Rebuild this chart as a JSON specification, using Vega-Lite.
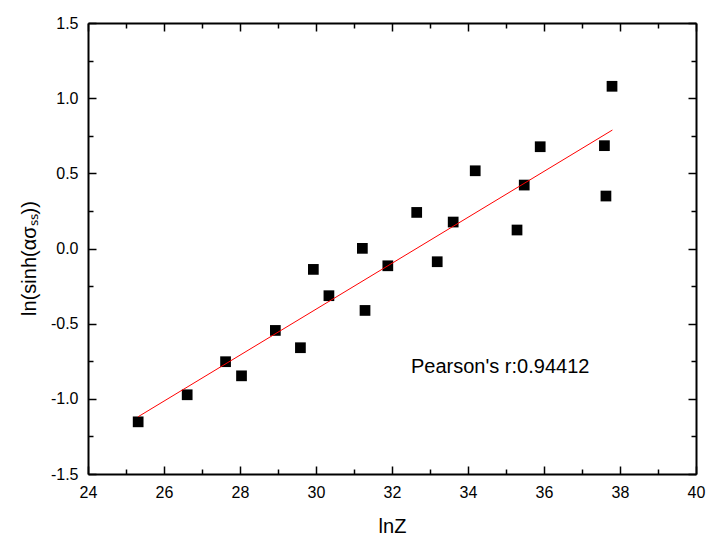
{
  "$schema": "https://vega.github.io/schema/vega-lite/v6.json",
  "width": 608,
  "height": 451,
  "autosize": "none",
  "padding": {"left": 88, "top": 23, "right": 11, "bottom": 62},
  "background": "white",
  "config": {
    "view": {"stroke": null},
    "font": "Liberation Sans",
    "axis": {"grid": false, "domainColor": "black", "domainWidth": 2, "tickColor": "black", "tickWidth": 1.5, "labelColor": "black", "titleColor": "black", "labelFont": "Liberation Sans", "titleFont": "Liberation Sans", "titleFontWeight": "normal"}
  },
  "datasets": {
    "pts": [
      {"lnZ": 25.32, "v": -1.153},
      {"lnZ": 26.61, "v": -0.973},
      {"lnZ": 27.62, "v": -0.753},
      {"lnZ": 28.04, "v": -0.847},
      {"lnZ": 28.93, "v": -0.545},
      {"lnZ": 29.59, "v": -0.660},
      {"lnZ": 29.93, "v": -0.139},
      {"lnZ": 30.34, "v": -0.314},
      {"lnZ": 31.22, "v": 0.001},
      {"lnZ": 31.29, "v": -0.412},
      {"lnZ": 31.89, "v": -0.115},
      {"lnZ": 32.65, "v": 0.240},
      {"lnZ": 33.19, "v": -0.088},
      {"lnZ": 33.61, "v": 0.176},
      {"lnZ": 34.19, "v": 0.517},
      {"lnZ": 35.29, "v": 0.123},
      {"lnZ": 35.48, "v": 0.422},
      {"lnZ": 35.90, "v": 0.677},
      {"lnZ": 37.59, "v": 0.684},
      {"lnZ": 37.63, "v": 0.349},
      {"lnZ": 37.79, "v": 1.079}
    ],
    "fit": [
      {"lnZ": 25.32, "v": -1.119},
      {"lnZ": 37.80, "v": 0.788}
    ],
    "note": [
      {"lnZ": 32.5, "v": -0.785, "t": "Pearson's r:0.94412"}
    ]
  },
  "layer": [
    {
      "data": {"name": "pts"},
      "mark": {"type": "point", "shape": "square", "filled": true, "color": "black", "opacity": 1, "size": 115},
      "encoding": {
        "x": {"field": "lnZ", "type": "quantitative", "scale": {"domain": [24, 40], "nice": false, "zero": false},
          "axis": {"orient": "bottom", "title": "lnZ", "titleFontSize": 20, "titlePadding": 13, "labelFontSize": 16, "labelPadding": 18,
            "values": [24,25,26,27,28,29,30,31,32,33,34,35,36,37,38,39,40],
            "tickSize": {"condition": {"test": "datum.value % 2 === 0", "value": -8}, "value": -5},
            "labelExpr": "datum.value % 2 === 0 ? format(datum.value, 'd') : ''", "labelFlush": false, "labelOverlap": false}},
        "y": {"field": "v", "type": "quantitative", "scale": {"domain": [-1.5, 1.5], "nice": false, "zero": false},
          "axis": {"orient": "left", "title": "ln(sinh(ασₛₛ))", "titleFontSize": 20, "titlePadding": 11, "titleY": 235, "labelFontSize": 16, "labelPadding": 18,
            "values": [-1.5,-1.25,-1.0,-0.75,-0.5,-0.25,0,0.25,0.5,0.75,1.0,1.25,1.5],
            "tickSize": {"condition": {"test": "abs(datum.value*2 - round(datum.value*2)) < 0.001", "value": -8}, "value": -5},
            "labelExpr": "abs(datum.value*2 - round(datum.value*2)) < 0.001 ? replace(format(datum.value, '.1f'), '−', '-') : ''", "labelFlush": false, "labelOverlap": false}}
      }
    },
    {
      "data": {"name": "fit"},
      "mark": {"type": "line", "color": "#ff0000", "strokeWidth": 1},
      "encoding": {
        "x": {"field": "lnZ", "type": "quantitative",
          "axis": {"orient": "top", "title": null, "labels": false,
            "values": [24,25,26,27,28,29,30,31,32,33,34,35,36,37,38,39,40],
            "tickSize": {"condition": {"test": "datum.value % 2 === 0", "value": -8}, "value": -5}}},
        "y": {"field": "v", "type": "quantitative",
          "axis": {"orient": "right", "title": null, "labels": false,
            "values": [-1.5,-1.25,-1.0,-0.75,-0.5,-0.25,0,0.25,0.5,0.75,1.0,1.25,1.5],
            "tickSize": {"condition": {"test": "abs(datum.value*2 - round(datum.value*2)) < 0.001", "value": -8}, "value": -5}}}
      }
    },
    {
      "data": {"name": "note"},
      "mark": {"type": "text", "align": "left", "baseline": "middle", "fontSize": 20, "color": "black", "font": "Liberation Sans"},
      "encoding": {
        "x": {"field": "lnZ", "type": "quantitative", "axis": null},
        "y": {"field": "v", "type": "quantitative", "axis": null},
        "text": {"field": "t"}
      }
    }
  ],
  "resolve": {"axis": {"x": "independent", "y": "independent"}}
}
